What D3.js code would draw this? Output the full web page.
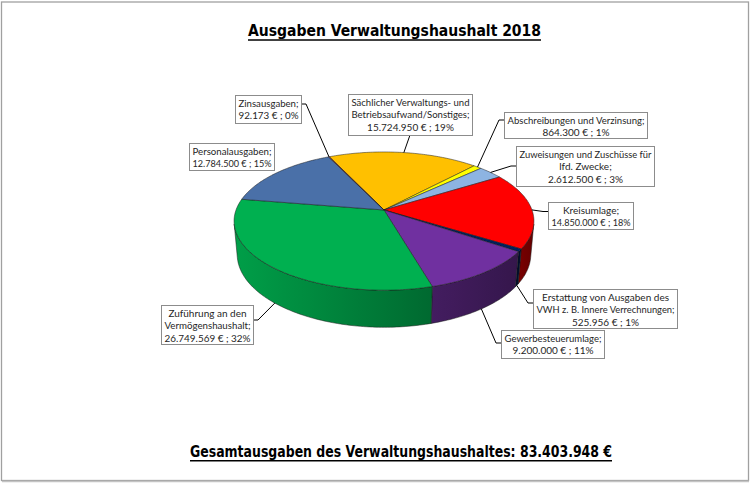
<!DOCTYPE html>
<html>
<head>
<meta charset="utf-8">
<script src="https://cdn.jsdelivr.net/npm/d3@7"></script>
<style>
  body { margin: 0; background: #fff; }
</style>
</head>
<body>
<svg id="chart" width="750" height="484"></svg>
<script>
// data
const categories = [
  "Sächlicher Verwaltungs- und\nBetriebsaufwand/Sonstiges",
  "Abschreibungen und Verzinsung",
  "Zuweisungen und Zuschüsse für\nlfd. Zwecke",
  "Kreisumlage",
  "Erstattung von Ausgaben des\nVWH z. B. Innere Verrechnungen",
  "Gewerbesteuerumlage",
  "Zuführung an den\nVermögenshaushalt",
  "Personalausgaben",
  "Zinsausgaben"
];
const values = [15724950, 864300, 2612500, 14850000, 525956, 9200000, 26749569, 12784500, 92173];
const colors = ["#ffc000", "#ffff00", "#8db4e2", "#ff0000", "#002060", "#7030a0", "#00b050", "#4a70a8", "#c0504d"];
const title = "Ausgaben Verwaltungshaushalt 2018";
const footerText = "Gesamtausgaben des Verwaltungshaushaltes: ";

// where the (hand placed) label boxes sit
const labelBoxes = [
  {x: 348, y: 94,  w: 124, h: 41, side: "bottom"},
  {x: 504, y: 112, w: 143, h: 26, side: "left", dy: 8},
  {x: 516, y: 146, w: 138, h: 40, side: "left", dy: 20},
  {x: 548, y: 202, w: 85,  h: 27, side: "left", dy: 9.5},
  {x: 533, y: 289, w: 144, h: 39, side: "left", dy: 14},
  {x: 501, y: 330, w: 103, h: 28, side: "left", dy: 13},
  {x: 161, y: 305, w: 92,  h: 39, side: "right", dy: 15},
  {x: 189, y: 143, w: 85,  h: 27, side: "none"},
  {x: 235, y: 95,  w: 66,  h: 28, side: "right", dy: 9}
];

const svg = d3.select("#chart");
const defs = svg.append("defs");
const total = d3.sum(values);
const de = d3.formatLocale({decimal: ",", thousands: ".", grouping: [3], currency: ["", " €"]});
const fmt = de.format(",.0f");

const data = values.map((v, i) => ({name: categories[i], value: v, color: colors[i]}));

// 3d pie: perspective projection of a tilted disc
const cx = 384, cy = 210, a = 148, Dr = 5.56;
const tilt = Math.asin(0.455), sinT = Math.sin(tilt), cosT = Math.cos(tilt);
const depth = 0.255;

function proj(ang, yUp) {
  const X = Math.sin(ang), Z = -Math.cos(ang);
  const v = yUp * cosT - Z * sinT;
  const w = Dr - (yUp * sinT + Z * cosT);
  return [cx + a * Dr * X / w, cy - a * Dr * v / w];
}

const pie = d3.pie()
  .value(d => d.value)
  .sort(null)
  .startAngle(-25 * Math.PI / 180)
  .endAngle(335 * Math.PI / 180);
const arcs = pie(data);

// front facing part of the outer wall
const vL = Math.acos(-1 / (Dr * cosT));
const vR = 2 * Math.PI - vL;
const shade = d3.scaleLinear().domain([vR, vL]).range([0.1, 0.6]);

function rimPoints(a0, a1, yUp) {
  const n = Math.max(2, Math.ceil((a1 - a0) / (Math.PI / 180)));
  return d3.range(n + 1).map(i => proj(a0 + (a1 - a0) * i / n, yUp));
}

const line = d3.line();
const gWall = svg.append("g");
arcs.forEach((d, i) => {
  const a0 = Math.max(d.startAngle, vL), a1 = Math.min(d.endAngle, vR);
  if (a1 <= a0) return;
  const top = rimPoints(a0, a1, 0), bot = rimPoints(a0, a1, -depth).reverse();
  const x0 = top[0][0], x1 = top[top.length - 1][0];
  const grad = defs.append("linearGradient")
    .attr("id", "wall" + i)
    .attr("gradientUnits", "userSpaceOnUse")
    .attr("x1", x0).attr("x2", x1).attr("y1", 0).attr("y2", 0);
  d3.range(9).forEach(k => {
    const t = k / 8;
    grad.append("stop")
      .attr("offset", t)
      .attr("stop-color", d3.interpolateRgb(d.data.color, "#000")(shade(a0 + (a1 - a0) * t)));
  });
  gWall.append("path")
    .attr("d", line(top.concat(bot)) + "Z")
    .attr("fill", "url(#wall" + i + ")")
    .attr("stroke", "#1a1a1a")
    .attr("stroke-width", 0.5);
});

// top face
svg.append("g").selectAll("path")
  .data(arcs)
  .join("path")
  .attr("d", d => line([[cx, cy]].concat(rimPoints(d.startAngle, d.endAngle, 0))) + "Z")
  .attr("fill", d => d.data.color)
  .attr("stroke", "#1a1a1a")
  .attr("stroke-width", 0.5)
  .attr("stroke-linejoin", "round");

// labels with leader lines
const gLab = svg.append("g");
arcs.forEach((d, i) => {
  const b = labelBoxes[i];
  const mid = (d.startAngle + d.endAngle) / 2;
  const anchor = (mid > vL && mid < vR) ? proj(mid, -depth) : proj(mid, 0);
  let pts = null;
  if (b.side === "left") pts = [[b.x, b.y + b.dy], [b.x - 5, b.y + b.dy], anchor];
  if (b.side === "right") pts = [[b.x + b.w, b.y + b.dy], [b.x + b.w + 5, b.y + b.dy], anchor];
  if (b.side === "bottom") pts = [[b.x + b.w / 2, b.y + b.h], anchor];
  if (pts) {
    gLab.append("path")
      .attr("d", line(pts))
      .attr("fill", "none")
      .attr("stroke", "#000")
      .attr("stroke-width", 1);
  }
  gLab.append("rect")
    .attr("x", b.x + 0.5).attr("y", b.y + 0.5)
    .attr("width", b.w).attr("height", b.h)
    .attr("fill", "#fff")
    .attr("stroke", "#8c8c8c")
    .attr("stroke-width", 1);

  const lines = d.data.name.split("\n");
  lines[lines.length - 1] += ";";
  lines.push(fmt(d.data.value) + " € ; " + Math.round(d.data.value / total * 100) + "%");
  lines.forEach((t, j) => {
    const txt = gLab.append("text")
      .attr("x", b.x + b.w / 2 + 0.5)
      .attr("y", b.y + 11.5 + j * 12.7)
      .attr("text-anchor", "middle")
      .attr("font-family", "Lato, 'Open Sans', sans-serif")
      .attr("font-size", "10px")
      .attr("fill", "#262626")
      .text(t);
    const len = txt.node().getComputedTextLength();
    if (len > b.w - 6) txt.attr("textLength", b.w - 6).attr("lengthAdjust", "spacingAndGlyphs");
  });
});

// title and footer, condensed bold and underlined
function heading(text, x, y, width) {
  svg.append("text")
    .attr("x", x).attr("y", y)
    .attr("font-family", "'DejaVu Sans Condensed', 'DejaVu Sans', sans-serif")
    .attr("font-stretch", "condensed")
    .attr("font-weight", "bold")
    .attr("font-size", "15px")
    .attr("fill", "#000")
    .attr("textLength", width)
    .attr("lengthAdjust", "spacingAndGlyphs")
    .text(text);
  svg.append("line")
    .attr("x1", x).attr("x2", x + width)
    .attr("y1", y + 4.2).attr("y2", y + 4.2)
    .attr("stroke", "#000")
    .attr("stroke-width", 1.5);
}
heading(title, 248, 35.7, 293);
heading(footerText + fmt(total) + " €", 190, 456.5, 422);

// chart area frame
svg.append("rect")
  .attr("x", 1.5).attr("y", 2)
  .attr("width", 747).attr("height", 478.5)
  .attr("fill", "none")
  .attr("stroke", "#a0a0a0")
  .attr("stroke-width", 1.3);
svg.append("line")
  .attr("x1", 2).attr("x2", 749)
  .attr("y1", 481.5).attr("y2", 481.5)
  .attr("stroke", "#c4c4c4")
  .attr("stroke-width", 1.5);
</script>
</body>
</html>
